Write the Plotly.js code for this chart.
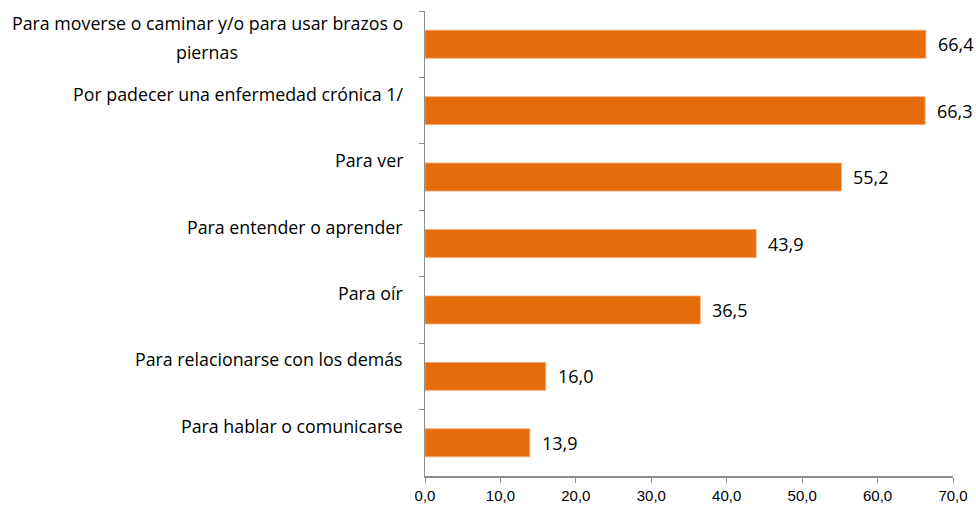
<!DOCTYPE html>
<html>
<head>
<meta charset="utf-8">
<script src="https://cdn.plot.ly/plotly-3.0.1.min.js"></script>
<style>
  html, body { margin: 0; padding: 0; background: #fff; }
  #chart { width: 976px; height: 507px; }
</style>
</head>
<body>
<div id="chart"></div>
<script>
// -------- DATA (top to bottom as drawn) --------
const categories = [
  'Para moverse o caminar y/o para usar brazos o<br>piernas',
  'Por padecer una enfermedad crónica 1/',
  'Para ver',
  'Para entender o aprender',
  'Para oír',
  'Para relacionarse con los demás',
  'Para hablar o comunicarse'
];
const values = [66.4, 66.3, 55.2, 43.9, 36.5, 16.0, 13.9];
const xTicks = [0, 10, 20, 30, 40, 50, 60, 70];

const LABEL_FONT = '"Open Sans", "Liberation Sans", sans-serif';
const TICK_FONT = '"Liberation Sans", Arial, sans-serif';
const LABEL_SIZE = 17.8;
const BAR_COLOR = '#E46C0A';

// measure text so multi-line labels can be centred within their block
const ctx = document.createElement('canvas').getContext('2d');
ctx.font = `${LABEL_SIZE}px "Open Sans"`;
const textWidth = s => ctx.measureText(s).width;

// -------- BAR TRACE --------
const bars = {
  type: 'bar',
  orientation: 'h',
  x: values,
  y: categories,
  marker: { color: BAR_COLOR, line: { color: '#F2A670', width: 0.8 } },
  hoverinfo: 'skip',
  showlegend: false
};

// -------- ANNOTATIONS --------
const annotations = [];

// category labels sit a bit above the bar centre, right aligned block, centred lines
categories.forEach((cat) => {
  const lines = cat.split('<br>');
  const n = lines.length;
  const centre = n === 1 ? 17 : 6.5;
  const maxW = Math.max(...lines.map(textWidth));
  lines.forEach((line, j) => {
    annotations.push({
      xref: 'paper', x: 0, xanchor: 'right',
      xshift: -20 - (maxW - textWidth(line)) / 2,
      yref: 'y', y: cat, yanchor: 'middle',
      yshift: centre + ((n - 1) / 2 - j) * 29,
      text: line,
      showarrow: false,
      font: { family: LABEL_FONT, size: LABEL_SIZE, color: '#000' }
    });
  });
});

// value labels to the right of each bar
values.forEach((v, i) => {
  annotations.push({
    xref: 'x', x: v, xanchor: 'left', xshift: 10,
    yref: 'y', y: categories[i], yanchor: 'middle',
    text: v.toFixed(1).replace('.', ','),
    showarrow: false,
    font: { family: LABEL_FONT, size: 18, color: '#000' }
  });
});

// -------- LAYOUT --------
const layout = {
  width: 976,
  height: 507,
  margin: { l: 425, r: 23, t: 11, b: 31 },
  paper_bgcolor: '#fff',
  plot_bgcolor: '#fff',
  separators: ',.',
  bargap: 0.58,
  font: { family: TICK_FONT, size: 15, color: '#000' },
  xaxis: {
    range: [0, 70],
    tickvals: xTicks,
    tickformat: '.1f',
    showgrid: false,
    zeroline: false,
    showline: true,
    linecolor: '#8C8C8C',
    linewidth: 1.5,
    ticks: 'outside',
    ticklen: 5,
    tickcolor: '#8C8C8C',
    tickfont: { family: TICK_FONT, size: 15, color: '#000' },
    fixedrange: true
  },
  yaxis: {
    autorange: 'reversed',
    type: 'category',
    showticklabels: false,
    showgrid: false,
    zeroline: false,
    showline: true,
    linecolor: '#8C8C8C',
    linewidth: 1.5,
    ticks: 'outside',
    tickson: 'boundaries',
    ticklen: 5,
    tickcolor: '#8C8C8C',
    fixedrange: true
  },
  annotations: annotations
};

Plotly.newPlot('chart', [bars], layout, { displayModeBar: false, staticPlot: true });
</script>
</body>
</html>
